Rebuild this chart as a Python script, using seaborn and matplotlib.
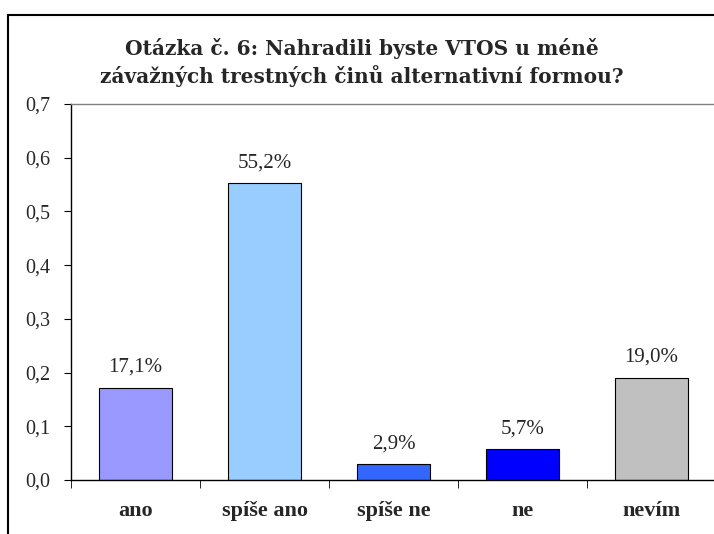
import numpy as np
import pandas as pd
import matplotlib
matplotlib.use("Agg")
import matplotlib.pyplot as plt
import seaborn as sns
from matplotlib.patches import Rectangle
from matplotlib.ticker import FuncFormatter

categories = ["ano", "spíše ano", "spíše ne", "ne", "nevím"]
shares = [0.171, 0.552, 0.029, 0.057, 0.190]
bar_colors = ["#9999FF", "#99CCFF", "#3366FF", "#0000FF", "#C0C0C0"]
title_lines = ["Otázka č. 6: Nahradili byste VTOS u méně",
               "závažných trestných činů alternativní formou?"]

sns.set_style("white")
plt.rcParams['font.family'] = ['Liberation Serif', 'DejaVu Serif']

df = pd.DataFrame({"odpoved": categories, "podil": shares})

fig = plt.figure(figsize=(7.14, 5.34), dpi=100)
ax = fig.add_axes([71 / 714, 1 - 480 / 534, 645 / 714, 376 / 534])

sns.barplot(data=df, x="odpoved", y="podil", hue="odpoved", palette=bar_colors,
            saturation=1, legend=False, width=0.57, edgecolor="black", linewidth=0.8, ax=ax)

# popisky hodnot nad sloupci
for i, v in enumerate(shares):
    ax.annotate(f"{v * 100:.1f}%".replace(".", ","), (i, v), xytext=(0, 15),
                textcoords="offset points", ha="center", va="center", fontsize=15)

ax.set_ylim(0, 0.7)
ax.set_xlim(-0.5, 4.5)
ax.set_yticks(np.arange(0, 0.71, 0.1))
ax.yaxis.set_major_formatter(FuncFormatter(lambda y, _: f"{y:.1f}".replace(".", ",")))
ax.set_xticks(np.arange(-0.5, 4.6, 1), minor=True)
ax.tick_params(axis="x", which="major", length=0, pad=15, labelsize=16)
ax.tick_params(axis="x", which="minor", length=6, direction="out", color="black", bottom=True)
ax.tick_params(axis="y", length=5, direction="out", color="black", left=True, pad=10, labelsize=14.5)
for lab in ax.get_xticklabels():
    lab.set_fontweight("bold")
ax.set_xlabel("")
ax.set_ylabel("")

for side in ["left", "bottom", "top"]:
    ax.spines[side].set_visible(True)
    ax.spines[side].set_color("black")
    ax.spines[side].set_linewidth(1)
ax.spines["top"].set_color("#808080")
ax.spines["right"].set_visible(False)

# nadpis - dva radky
for line, base_y in zip(title_lines, [55, 83]):
    fig.text(362 / 714, 1 - base_y / 534, line, ha="center", va="baseline",
             fontsize=14.5, fontweight="bold", family=["DejaVu Serif"])

# ramecek grafu
fig.patches.append(Rectangle((8 / 714, -0.1), 1.2, 1 - 15 / 534 + 0.1, transform=fig.transFigure,
                             fill=False, edgecolor="black", linewidth=1.5))

plt.savefig("out.png", dpi=100)
